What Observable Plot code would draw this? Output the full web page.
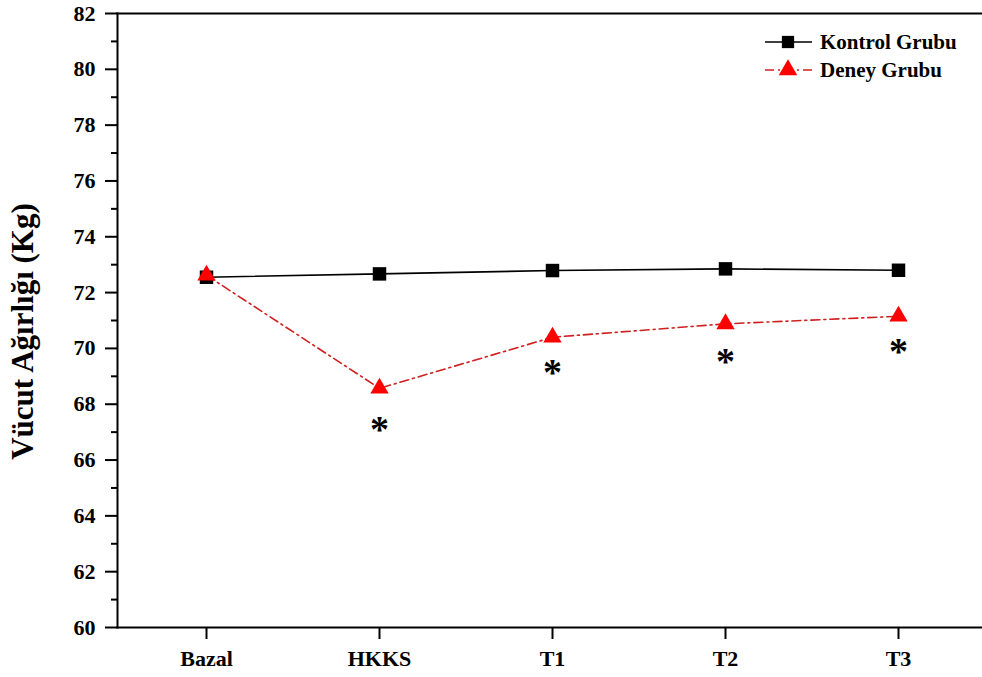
<!DOCTYPE html>
<html>
<head>
<meta charset="utf-8">
<script src="https://cdn.jsdelivr.net/npm/d3@7"></script>
<script src="https://cdn.jsdelivr.net/npm/@observablehq/plot@0.6"></script>
<style>
  html, body { margin: 0; padding: 0; background: #fff; }
  #chart { position: relative; width: 982px; height: 677px; overflow: hidden; }
</style>
</head>
<body>
<div id="chart"></div>
<script>
const categories = ["Bazal", "HKKS", "T1", "T2", "T3"];
const kontrolValues = [72.55, 72.67, 72.79, 72.85, 72.80];
const deneyValues = [72.62, 68.57, 70.40, 70.88, 71.15];
const significantCategories = ["HKKS", "T1", "T2", "T3"];
const asteriskValues = [67.42, 69.46, 69.85, 70.21];
const majorTicks = [60, 62, 64, 66, 68, 70, 72, 74, 76, 78, 80, 82];
const minorTicks = [61, 63, 65, 67, 69, 71, 73, 75, 77, 79, 81];
const seriesNames = ["Kontrol Grubu", "Deney Grubu"];
const yLabel = "Vücut Ağırlığı (Kg)";

const kontrol = categories.map((c, i) => ({cat: c, value: kontrolValues[i]}));
const deney = categories.map((c, i) => ({cat: c, value: deneyValues[i]}));
const stars = significantCategories.map((c, i) => ({cat: c, value: asteriskValues[i]}));

const FONT = "'Liberation Serif', 'Times New Roman', serif";
const RED_LINE = "#d01f1f";
const RED = "#ff0000";

const chart = Plot.plot({
  width: 982,
  height: 677,
  marginLeft: 117,
  marginRight: -4,
  marginTop: 13,
  marginBottom: 50,
  style: {fontFamily: FONT, color: "#000", background: "#fff", overflow: "visible"},
  x: {type: "point", domain: categories, padding: 0.5},
  y: {domain: [60, 82]},
  marks: [
    Plot.axisY({ticks: minorTicks, tickSize: 6, text: null, strokeWidth: 2, label: null}),
    Plot.axisY({ticks: majorTicks, tickSize: 12, tickPadding: 10, fontSize: 22, fontWeight: "bold", strokeWidth: 2, label: null}),
    Plot.axisX({tickSize: 12, tickPadding: 11, fontSize: 22, fontWeight: "bold", strokeWidth: 2, label: null}),
    Plot.frame({anchor: "left", strokeWidth: 2}),
    Plot.frame({anchor: "bottom", strokeWidth: 2}),
    Plot.frame({anchor: "top", strokeWidth: 2}),
    Plot.text([yLabel], {frameAnchor: "left", dx: -94, dy: 11, rotate: -90, fontSize: 31, fontWeight: "bold", textAnchor: "middle"}),
    Plot.line(kontrol, {x: "cat", y: "value", stroke: "#000", strokeWidth: 1.6}),
    Plot.dot(kontrol, {x: "cat", y: "value", symbol: "square", r: 7.6, fill: "#000", stroke: "none"}),
    Plot.line(deney, {x: "cat", y: "value", stroke: RED_LINE, strokeWidth: 1.6, strokeDasharray: "9,4,2,4"}),
    Plot.dot(deney, {x: "cat", y: "value", symbol: "triangle", r: 6.8, fill: RED, stroke: "none"}),
    Plot.text(stars, {x: "cat", y: "value", text: () => "*", fontSize: 38, fontWeight: "bold", dy: 9})
  ]
});

document.getElementById("chart").appendChild(chart);

// Legend drawn inside the plot area (top-right)
const svg = d3.select(chart);
const lg = svg.append("g")
  .attr("font-family", FONT).attr("font-weight", "bold").attr("font-size", 21)
  .attr("text-anchor", "start");
const rows = [
  {name: seriesNames[0], y: 42, stroke: "#000", dash: null, sym: d3.symbolSquare, fill: "#000"},
  {name: seriesNames[1], y: 70, stroke: RED_LINE, dash: "9,4,2,4", sym: d3.symbolTriangle, fill: RED}
];
rows.forEach(r => {
  lg.append("line").attr("x1", 765).attr("x2", 812).attr("y1", r.y).attr("y2", r.y)
    .attr("stroke", r.stroke).attr("stroke-width", 1.6).attr("stroke-dasharray", r.dash);
  lg.append("path").attr("d", d3.symbol(r.sym, 150)())
    .attr("transform", `translate(788,${r.y})`).attr("fill", r.fill);
  lg.append("text").attr("x", 820).attr("y", r.y).attr("dy", "0.35em").attr("fill", "#000").text(r.name);
});
</script>
</body>
</html>
